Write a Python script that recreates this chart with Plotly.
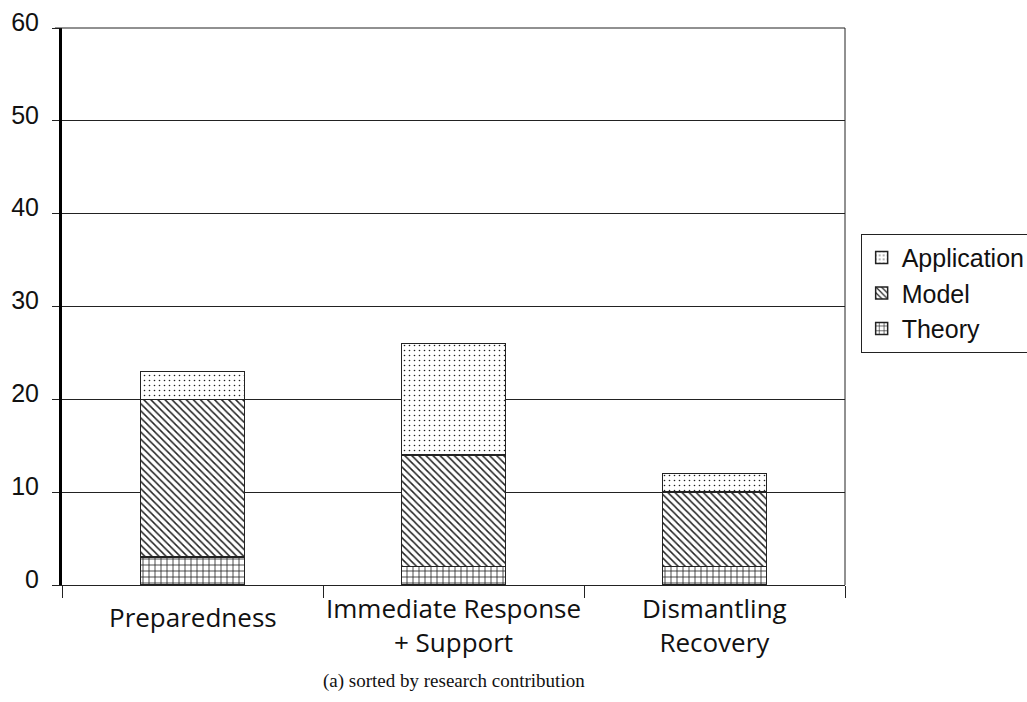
import plotly.graph_objects as go

categories = ["Preparedness", "Immediate Response + Support", "Dismantling Recovery"]
category_labels = ["Preparedness", "Immediate Response<br>+ Support", "Dismantling<br>Recovery"]
theory = [3, 2, 2]
model = [17, 12, 8]
application = [3, 12, 2]
y_ticks = [0, 10, 20, 30, 40, 50, 60]

fig = go.Figure()
series = [
    ("Theory", theory, "+", 6, 0.25),
    ("Model", model, "\\", 5, 0.3),
    ("Application", application, ".", 5, 0.08),
]
for name, vals, shape, size, sol in series:
    fig.add_trace(go.Bar(
        name=name, x=categories, y=vals, width=0.4,
        marker=dict(color="white", line=dict(color="#222", width=1.5),
                    pattern=dict(shape=shape, size=size, solidity=sol,
                                 fgcolor="#222", bgcolor="white", fillmode="replace")),
    ))

for cat, lab in zip(categories, category_labels):
    nlines = lab.count("<br>") + 1
    fig.add_annotation(x=cat, xref="x", y=0, yref="paper", yshift=-24 - 8 * nlines,
                       text=lab, showarrow=False, yanchor="middle",
                       font=dict(family="Open Sans", size=26, color="#111"))

fig.add_annotation(x=0.5, xref="paper", y=0, yref="paper", yshift=-96,
                   text="(a) sorted by research contribution", showarrow=False,
                   yanchor="middle", font=dict(family="Liberation Serif", size=19, color="#111"))

# plot-area frame: right border and top edge (with its tick)
fig.add_shape(type="line", xref="paper", yref="paper", x0=1, x1=1, y0=0, y1=1,
              line=dict(color="#222", width=1))
fig.add_shape(type="line", xref="paper", yref="paper", x0=-0.009, x1=1, y0=1, y1=1,
              line=dict(color="#222", width=1))

fig.update_layout(
    width=1027, height=702, barmode="stack", bargap=0.6,
    plot_bgcolor="white", paper_bgcolor="white",
    margin=dict(l=62, r=182, t=28, b=117, autoexpand=False),
    legend=dict(x=1.02, xanchor="left", y=0.524, yanchor="middle",
                traceorder="reversed", bordercolor="#222", borderwidth=1,
                font=dict(family="Liberation Sans", size=25, color="#111"),
                itemwidth=30),
    xaxis=dict(showline=True, linecolor="#222", linewidth=1, ticks="outside",
               tickson="boundaries", ticklen=12, tickcolor="#222", automargin=False,
               showticklabels=False, showgrid=False, range=[-0.5, 2.5]),
    yaxis=dict(range=[0, 60], tickvals=y_ticks, showgrid=True, gridcolor="#222",
               gridwidth=1, showline=True, linecolor="black", linewidth=3,
               ticks="outside", ticklen=7, tickcolor="#222", zeroline=False,
               automargin=False, ticklabelstandoff=8, ticklabelshift=-6,
               ticklabeloverflow="allow",
               tickfont=dict(family="Liberation Sans", size=25, color="#111")),
)

fig.write_html("out.html", post_script="document.body.style.margin='0';",
               config={"displayModeBar": False})
